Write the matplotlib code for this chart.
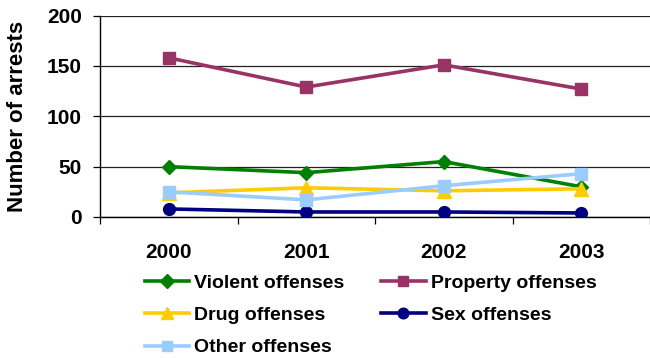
import matplotlib
matplotlib.use("Agg")
import matplotlib.pyplot as plt

plt.rcParams['font.family'] = ['Liberation Sans', 'DejaVu Sans']
plt.rcParams['font.weight'] = 'bold'

years = ["2000", "2001", "2002", "2003"]
violent = [50, 44, 55, 30]
property_ = [158, 129, 151, 127]
drug = [24, 29, 26, 28]
sex = [8, 5, 5, 4]
other = [25, 17, 31, 43]

series = [
    ("Violent offenses", violent, "#008000", "D", 7.5),
    ("Property offenses", property_, "#993366", "s", 8.5),
    ("Drug offenses", drug, "#FFCC00", "^", 10),
    ("Sex offenses", sex, "#000080", "o", 8.5),
    ("Other offenses", other, "#99CCFF", "s", 8.5),
]

fig = plt.figure(figsize=(6.5, 3.58), dpi=100)
ax = fig.add_axes([100 / 650, (358 - 217) / 358, 550 / 650, 201.5 / 358])

x = list(range(len(years)))
handles = []
for i, (name, vals, color, marker, ms) in enumerate(series):
    h, = ax.plot(x, vals, color=color, lw=2.6, marker=marker, ms=ms,
                 markeredgecolor=color, label=name, zorder=3 + i)
    handles.append(h)

ax.set_xlim(-0.5, len(years) - 0.5)
ax.set_ylim(0, 200)
ax.set_yticks([0, 50, 100, 150, 200])
ax.set_xticks(x)
ax.set_xticklabels(years)
ax.set_xticks([i - 0.5 for i in range(len(years) + 1)], minor=True)
ax.tick_params(axis='x', which='major', length=0, pad=19, labelsize=15)
ax.tick_params(axis='x', which='minor', length=5, width=0.9, direction='out')
ax.tick_params(axis='y', length=5, width=0.9, direction='out', labelsize=15, pad=8)
for lab in ax.get_xticklabels() + ax.get_yticklabels():
    lab.set_fontweight('bold')

ax.grid(axis='y', color='#222222', lw=0.9)
ax.set_axisbelow(True)
for s in ('top', 'right'):
    ax.spines[s].set_visible(False)
for s in ('left', 'bottom'):
    ax.spines[s].set_linewidth(1.0)

fig.text(18 / 650, 1 - 116 / 358, "Number of arrests", rotation=90,
         ha='center', va='center', fontsize=16, fontweight='bold')

# two columns filled row by row
order = [0, 2, 4, 1, 3]
leg = fig.legend([handles[k] for k in order], [series[k][0] for k in order],
                 loc='upper left', bbox_to_anchor=(145 / 650, 1 - 274 / 358),
                 ncol=2, frameon=False, fontsize=14, handlelength=2.27,
                 handletextpad=0.26, columnspacing=1.9, labelspacing=0.76,
                 borderaxespad=0, borderpad=0, markerscale=0.9)
for t in leg.get_texts():
    t.set_fontweight('bold')

fig.savefig("out.png", dpi=100)
